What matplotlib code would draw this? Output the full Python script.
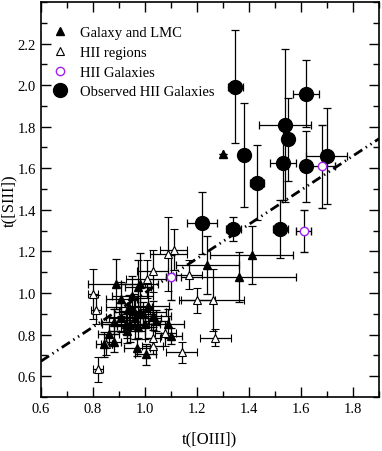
"""t([SIII]) vs t([OIII]) → out.png"""
import matplotlib.pyplot as plt
from matplotlib.ticker import MultipleLocator

plt.rcParams["font.family"] = ["Liberation Serif", "DejaVu Serif"]

# Galaxy and LMC (filled triangles)
gal_x = [0.890, 0.909, 0.952, 0.973, 0.980, 0.939, 0.960, 0.980, 0.992, 1.011,
         1.031, 1.041, 0.909, 0.880, 0.926, 0.931, 0.941, 0.963, 0.973, 0.931,
         0.999, 0.861, 0.880, 0.843, 0.971, 1.003, 1.101, 1.090, 1.240, 1.360,
         1.410, 1.300]
gal_y = [1.043, 0.971, 0.984, 1.027, 1.043, 0.931, 0.915, 0.907, 0.899, 0.939,
         0.891, 0.866, 0.883, 0.862, 0.851, 0.842, 0.846, 0.878, 0.835, 0.818,
         0.851, 0.802, 0.765, 0.754, 0.738, 0.706, 0.794, 0.853, 1.135, 1.075,
         1.183, 1.667]
gal_xerr = [0.11, 0.06, 0.08, 0.05, 0.07, 0.09, 0.06, 0.10, 0.05, 0.08,
            0.07, 0.05, 0.06, 0.05, 0.09, 0.04, 0.06, 0.10, 0.05, 0.07,
            0.06, 0.04, 0.03, 0.03, 0.05, 0.04, 0.04, 0.06, 0.12, 0.22,
            0.16, 0.0]
gal_yerr = [0.12, 0.08, 0.10, 0.13, 0.15, 0.06, 0.08, 0.07, 0.06, 0.09,
            0.07, 0.05, 0.07, 0.06, 0.05, 0.06, 0.08, 0.10, 0.05, 0.06,
            0.07, 0.05, 0.05, 0.06, 0.04, 0.05, 0.04, 0.07, 0.14, 0.12,
            0.14, 0.0]

# HII regions (open triangles)
hii_x = [0.800, 0.811, 0.820, 0.852, 1.030, 1.009, 1.090, 1.110, 1.079, 1.030,
         1.030, 1.142, 1.171, 1.200, 1.260, 1.271]
hii_y = [0.995, 0.920, 0.634, 0.754, 1.107, 1.067, 1.188, 1.209, 0.806, 0.786,
         0.746, 0.714, 1.087, 0.966, 0.966, 0.786]
hii_xerr = [0.02, 0.02, 0.02, 0.02, 0.06, 0.08, 0.07, 0.05, 0.04, 0.03,
            0.04, 0.06, 0.05, 0.07, 0.12, 0.06]
hii_yerr = [0.12, 0.07, 0.06, 0.05, 0.10, 0.09, 0.18, 0.10, 0.06, 0.05,
            0.04, 0.05, 0.07, 0.06, 0.15, 0.04]

# HII galaxies (open purple circles)
hg_x = [1.100, 1.610, 1.680]
hg_y = [1.075, 1.299, 1.609]
hg_xerr = [0.02, 0.03, 0.05]
hg_yerr = [0.11, 0.10, 0.20]

# Observed HII galaxies (big filled circles)
obs_x = [1.348, 1.382, 1.431, 1.539, 1.550, 1.532, 1.619, 1.619, 1.699, 1.220,
         1.340, 1.521]
obs_y = [1.993, 1.665, 1.530, 1.806, 1.739, 1.626, 1.959, 1.609, 1.658, 1.337,
         1.308, 1.308]
obs_xerr = [0.03, 0.01, 0.026, 0.10, 0.02, 0.05, 0.05, 0.01, 0.08, 0.059,
            0.03, 0.03]
obs_yerr = [0.27, 0.25, 0.18, 0.37, 0.20, 0.18, 0.16, 0.17, 0.23, 0.15,
            0.06, 0.14]

# fit line
fit_x = [0.6, 1.9]
fit_slope, fit_icpt = 0.823, 0.178


def main() -> None:
    fig = plt.figure(figsize=(3.82, 4.52), dpi=100)
    ax = fig.add_axes([0.107, 0.1195, 0.885, 0.874])

    eb = dict(ecolor="black", elinewidth=0.9, capsize=3, capthick=0.9, linestyle="none")
    ax.errorbar(hii_x, hii_y, xerr=hii_xerr, yerr=hii_yerr, fmt="^", ms=5.5,
                mfc="white", mec="black", mew=0.8, label="HII regions", **eb)
    ax.errorbar(gal_x, gal_y, xerr=gal_xerr, yerr=gal_yerr, fmt="^", ms=5.5,
                mfc="black", mec="black", label="Galaxy and LMC", **eb)
    ax.errorbar(obs_x, obs_y, xerr=obs_xerr, yerr=obs_yerr, fmt="o", ms=10,
                mfc="black", mec="black", label="Observed HII Galaxies", **eb)
    ax.errorbar(hg_x, hg_y, xerr=hg_xerr, yerr=hg_yerr, fmt="o", ms=6,
                mfc="white", mec="#a020f0", mew=1.0, label="HII Galaxies", **eb)

    fy = [fit_slope * v + fit_icpt for v in fit_x]
    ax.plot(fit_x, fy, color="black", lw=2, dashes=(3.5, 1.5, 0.5, 1.5, 0.5, 1.5))

    ax.set_xlim(0.6, 1.9)
    ax.set_ylim(0.5, 2.4)
    ax.set_xticks([0.6, 0.8, 1.0, 1.2, 1.4, 1.6, 1.8])
    ax.set_yticks([0.6, 0.8, 1.0, 1.2, 1.4, 1.6, 1.8, 2.0, 2.2])
    ax.xaxis.set_minor_locator(MultipleLocator(0.1))
    ax.yaxis.set_minor_locator(MultipleLocator(0.1))
    ax.tick_params(which="both", direction="in", top=True, right=True, labelsize=10.5)
    ax.tick_params(which="major", length=7, width=1)
    ax.tick_params(which="minor", length=4, width=1)
    for s in ax.spines.values():
        s.set_linewidth(1.2)

    ax.set_xlabel("t([OIII])", fontsize=12, labelpad=11)
    ax.set_ylabel("t([SIII])", fontsize=12, va="center")
    ax.yaxis.set_label_coords(-0.093, 0.5)

    handles, labels = ax.get_legend_handles_labels()
    order = ["Galaxy and LMC", "HII regions", "HII Galaxies", "Observed HII Galaxies"]
    hmap = dict(zip(labels, handles))
    leg_handles = [hmap[name][0] for name in order]
    ax.legend(leg_handles, order, loc="upper left", bbox_to_anchor=(0.0, 0.965),
              frameon=False, fontsize=10.5, handlelength=1.2, handletextpad=0.8,
              labelspacing=0.45, borderaxespad=0.3)

    fig.savefig("out.png", dpi=100)
    plt.close(fig)


if __name__ == "__main__":
    main()
